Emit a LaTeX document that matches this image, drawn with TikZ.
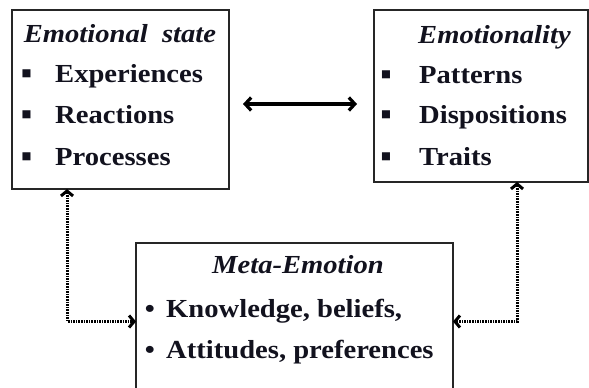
\documentclass[tikz,border=0pt]{standalone}
\usepackage{fontspec}
\setmainfont{Liberation Serif}[FakeStretch=1.1]
\newfontfamily\dvfont{DejaVu Sans}
\usetikzlibrary{arrows.meta}
\definecolor{ink}{RGB}{18,18,30}
\begin{document}
\begin{tikzpicture}[x=1pt,y=-1pt,
  box/.style={draw=black!85, line width=1.4pt, inner sep=0pt, outer sep=0pt, rectangle},
  item/.style={anchor=base west, inner sep=0pt, text=ink, font=\fontsize{26}{26}\selectfont\bfseries},
  ttl/.style={anchor=base, inner sep=0pt, text=ink, font=\fontsize{26}{26}\selectfont\bfseries\itshape},
  sq/.style={inner sep=0pt, text=ink, font=\dvfont\fontsize{10.5}{10.5}\selectfont},
  dotb/.style={inner sep=0pt, text=ink, font=\fontsize{26}{26}\selectfont\bfseries},
  solidarr/.style={line width=3.2pt, {Straight Barb[length=6pt,width=13pt]}-{Straight Barb[length=6pt,width=13pt]}},
  dotarr/.style={line width=3pt, dash pattern=on 1.6pt off 1pt, {Straight Barb[length=5pt,width=12pt]}-{Straight Barb[length=5pt,width=12pt]}}
]
\useasboundingbox (0,0) rectangle (589,388);
\clip (0,0) rectangle (589,388);
\fill[white] (0,0) rectangle (589,388);

% boxes
\node[box, minimum width=217pt, minimum height=179pt] (ls) at (120.5,99.5) {};
\node[box, minimum width=214pt, minimum height=172pt] (rs) at (481,96) {};
\node[box, minimum width=317pt, minimum height=157pt] (bx) at (294.5,321.5) {};

% left box text
\node[ttl] (lt) at (120,42) {Emotional\ \ state};
\node[sq] (lb1) at (26.5,74) {■};
\node[sq] (lb2) at (26.5,115) {■};
\node[sq] (lb3) at (26.5,157) {■};
\node[item] (l1) at (55,82) {Experiences};
\node[item] (l2) at (55,123) {Reactions};
\node[item] (l3) at (55,165) {Processes};

% right box text
\node[ttl, anchor=base west] (rt) at (418,43) {Emotionality};
\node[sq] (rb1) at (386,75) {■};
\node[sq] (rb2) at (386,115) {■};
\node[sq] (rb3) at (386,157) {■};
\node[item] (r1) at (419,83) {Patterns};
\node[item] (r2) at (419,123) {Dispositions};
\node[item] (r3) at (419,165) {Traits};

% bottom box text
\node[ttl] (bt) at (298,273) {Meta-Emotion};
\node[dotb, anchor=base] (bb1) at (150,317) {•};
\node[dotb, anchor=base] (bb2) at (150,358) {•};
\node[item] (b1) at (166,317) {Knowledge, beliefs,};
\node[item] (b2) at (166,358) {Attitudes, preferences};

% connectors
\coordinate (hl) at (243,104);
\coordinate (hr) at (357,104);
\draw[solidarr] (hl) -- (hr);
\coordinate (lx) at (67,0);
\coordinate (rx) at (517,0);
\draw[dotarr] (lx |- ls.south) |- (bx.west);
\draw[dotarr] (rx |- rs.south) |- (bx.east);
\end{tikzpicture}
\end{document}
